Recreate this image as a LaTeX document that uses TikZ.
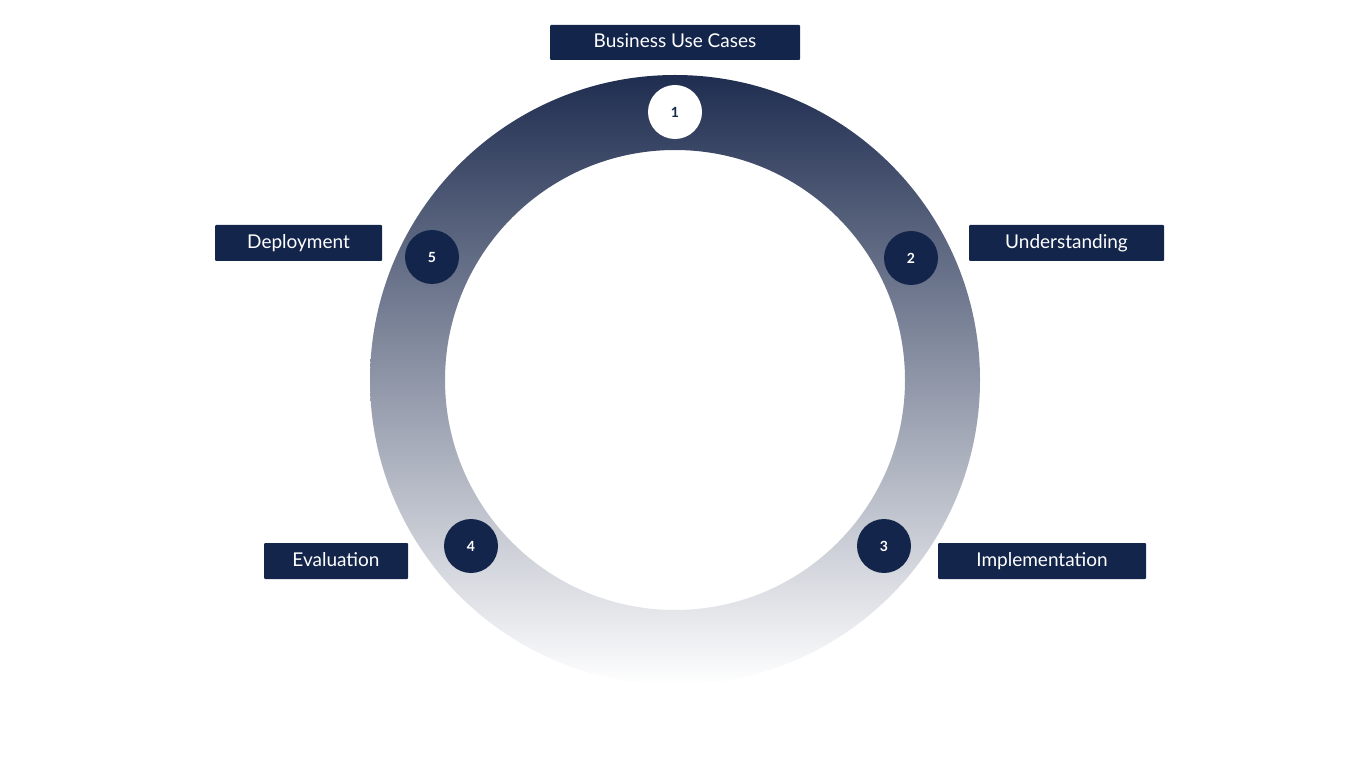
\documentclass[tikz,border=0pt]{standalone}
\usepackage{fontspec}
\setmainfont{Lato}
\definecolor{navy}{HTML}{13254A}
\definecolor{ringtop}{HTML}{1F2D50}
\tikzset{
  lab/.style={fill=navy,text=white,rounded corners=1pt,inner sep=0pt,font=\fontsize{19}{22}\selectfont,text height=14pt,text depth=3pt},
  num/.style={circle,fill=navy,text=white,minimum size=54pt,inner sep=0pt,font=\fontsize{14}{16}\selectfont\bfseries},
}
\begin{document}
\begin{tikzpicture}[x=1pt,y=-1pt]
\useasboundingbox (0,0) rectangle (1350,759);
\shade[top color=ringtop,bottom color=white,even odd rule] (675,380) circle (305) (675,380) circle (230);
\node[num,fill=white,text=navy] (n1) at (675,112) {1};
\node[num] (n2) at (911,258) {2};
\node[num] (n3) at (884,546) {3};
\node[num] (n4) at (471,546) {4};
\node[num] (n5) at (432,257) {5};
\node[lab,minimum width=250pt,minimum height=35pt] (l1) at (675,42.5) {Business Use Cases};
\node[lab,minimum width=195pt,minimum height=36pt] (l2) at (1066.5,243) {Understanding};
\node[lab,minimum width=167pt,minimum height=36pt] (l5) at (298.5,243) {Deployment};
\node[lab,minimum width=208pt,minimum height=36pt] (l3) at (1042,561) {Implementation};
\node[lab,minimum width=144pt,minimum height=36pt] (l4) at (336,561) {Evaluation};
\end{tikzpicture}
\end{document}
